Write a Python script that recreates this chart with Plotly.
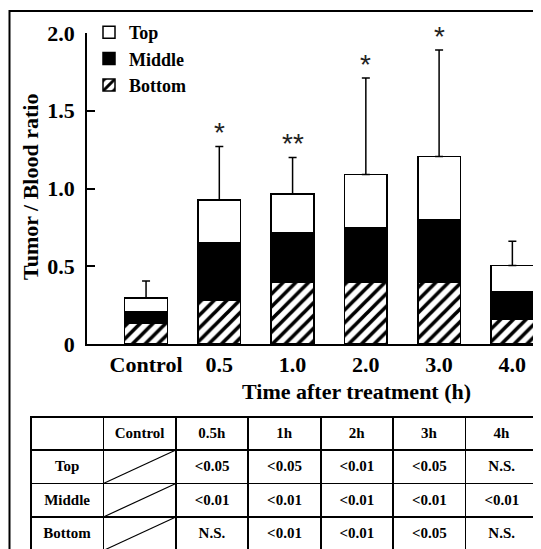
import plotly.graph_objects as go

# ---------------- data ----------------
categories = ["Control", "0.5", "1.0", "2.0", "3.0", "4.0"]
bottom_vals = [0.135, 0.28, 0.395, 0.395, 0.395, 0.16]
middle_vals = [0.07, 0.37, 0.32, 0.35, 0.405, 0.175]
top_vals = [0.09, 0.275, 0.25, 0.345, 0.405, 0.17]
err_vals = [0.11, 0.345, 0.235, 0.62, 0.685, 0.155]
sig_marks = ["", "*", "**", "*", "*", ""]
series_names = ["Bottom", "Middle", "Top"]
y_ticks = [0, 0.5, 1.0, 1.5, 2.0]
y_ticklabels = ["0", "0.5", "1.0", "1.5", "2.0"]

table_header = ["", "Control", "0.5h", "1h", "2h", "3h", "4h"]
row_labels = ["Top", "Middle", "Bottom"]
p_top = ["&lt;0.05", "&lt;0.05", "&lt;0.01", "&lt;0.05", "N.S."]
p_middle = ["&lt;0.01", "&lt;0.01", "&lt;0.01", "&lt;0.01", "&lt;0.01"]
p_bottom = ["N.S.", "&lt;0.01", "&lt;0.01", "&lt;0.05", "N.S."]

# ---------------- geometry (screen pixels) ----------------
W, H = 541, 549
OFF = 8  # page body margin
FONT = "Liberation Serif"
plot_left, plot_top, plot_bottom = 87, 33, 344
tab_left, tab_right, tab_top = 31, 538, 417
head_h, row_h = 33, 33.5

def px(x):
    return (x - OFF) / W

def py(y):
    return (H - (y - OFF)) / H

totals = [b + m + t for b, m, t in zip(bottom_vals, middle_vals, top_vals)]

fig = go.Figure()
fig.add_trace(go.Bar(
    x=categories, y=bottom_vals, name="<b>%s</b>" % series_names[0],
    marker=dict(color="white", line=dict(color="black", width=1.5),
                pattern=dict(shape="/", fgcolor="black", bgcolor="white",
                             size=9, solidity=0.4)),
))
fig.add_trace(go.Bar(
    x=categories, y=middle_vals, name="<b>%s</b>" % series_names[1],
    marker=dict(color="black", line=dict(color="black", width=1.5)),
))
fig.add_trace(go.Bar(
    x=categories, y=top_vals, name="<b>%s</b>" % series_names[2],
    marker=dict(color="white", line=dict(color="black", width=1.5)),
))
fig.add_trace(go.Scatter(
    x=categories, y=totals, mode="markers",
    marker=dict(size=1, opacity=0), showlegend=False, hoverinfo="skip",
    error_y=dict(type="data", symmetric=False, array=err_vals,
                 arrayminus=[0] * len(err_vals),
                 color="black", thickness=1.5, width=4),
))

# table
cols = [row_labels, ["", "", ""]]
for i in range(5):
    cols.append([p_top[i], p_middle[i], p_bottom[i]])
fig.add_trace(go.Table(
    domain=dict(x=[px(tab_left), px(tab_right)], y=[0, py(tab_top)]),
    columnwidth=[1] * 7,
    header=dict(values=["<b>%s</b>" % h for h in table_header],
                height=head_h, align="center",
                line=dict(color="black", width=1.8),
                fill=dict(color="rgba(0,0,0,0)"),
                font=dict(family=FONT, size=15, color="black")),
    cells=dict(values=[["<b>%s</b>" % v for v in c] for c in cols],
               height=row_h, align="center",
               line=dict(color="black", width=1.8),
               fill=dict(color="rgba(0,0,0,0)"),
               font=dict(family=FONT, size=15, color="black")),
))

shapes = []
# diagonal strikes in Control column
col_w = (tab_right - tab_left) / 7
cx0 = tab_left + col_w
cx1 = tab_left + 2 * col_w
for r in range(3):
    y_top = tab_top + head_h + r * row_h
    y_bot = y_top + row_h
    shapes.append(dict(type="line", xref="paper", yref="paper",
                       x0=px(cx0), y0=py(y_bot), x1=px(cx1), y1=py(y_top),
                       line=dict(color="black", width=1.2)))
# outer frame (left + top visible)
shapes.append(dict(type="rect", xref="paper", yref="paper",
                   x0=px(9.5), y0=-0.05, x1=1.05, y1=py(11),
                   line=dict(color="black", width=2)))

annotations = []
for i, (s, t, e) in enumerate(zip(sig_marks, totals, err_vals)):
    if s:
        annotations.append(dict(x=i, y=t + e, xref="x", yref="y", text=s,
                                showarrow=False, yanchor="middle", yshift=14,
                                font=dict(family="Liberation Sans", size=28, color="#222")))
annotations.append(dict(x=px(30), y=py(187), xref="paper", yref="paper",
                        text="<b>Tumor / Blood ratio</b>", textangle=-90,
                        showarrow=False, xanchor="center", yanchor="middle",
                        font=dict(family=FONT, size=22, color="black")))
annotations.append(dict(x=px(356), y=py(391), xref="paper", yref="paper",
                        text="<b>Time after treatment (h)</b>",
                        showarrow=False, xanchor="center", yanchor="middle",
                        font=dict(family=FONT, size=22, color="black")))

fig.update_layout(
    template="none",
    font=dict(family=FONT, color="black"),
    width=W, height=H,
    margin=dict(l=0, r=0, t=0, b=0, autoexpand=False),
    paper_bgcolor="white", plot_bgcolor="white",
    barmode="stack", bargap=0.417,
    showlegend=True,
    legend=dict(x=px(89), y=py(14), xanchor="left", yanchor="top",
                traceorder="reversed", bgcolor="rgba(0,0,0,0)",
                font=dict(family="Times New Roman", size=18, color="black", weight=700),
                tracegroupgap=0),
    xaxis=dict(type="category", domain=[px(plot_left), 1], range=[-0.806, 5.5],
               automargin=False,
               showline=True, linecolor="black", linewidth=1.5,
               ticks="", showgrid=False, zeroline=False,
               tickfont=dict(family=FONT, size=22, color="black", weight="bold")),
    yaxis=dict(domain=[py(plot_bottom), py(plot_top)], range=[0, 2.0],
               automargin=False,
               tickvals=y_ticks, ticktext=y_ticklabels,
               showline=True, linecolor="black", linewidth=1.5,
               ticks="inside", ticklen=8, tickwidth=1.5, tickcolor="black",
               ticklabelstandoff=6,
               showgrid=False, zeroline=False,
               tickfont=dict(family=FONT, size=22, color="black", weight="bold")),
    shapes=shapes,
    annotations=annotations,
)

fig.write_html("out.html")
